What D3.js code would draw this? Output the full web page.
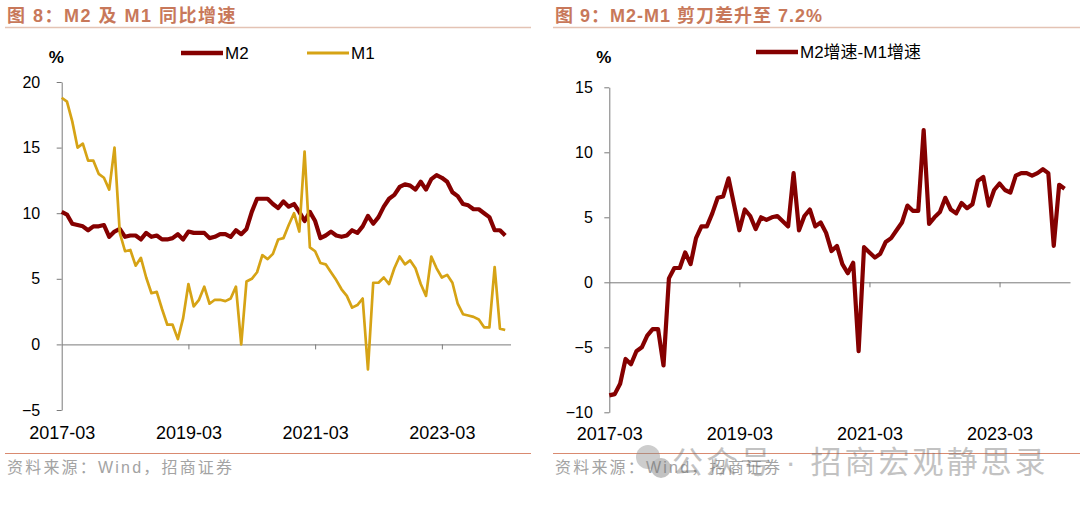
<!DOCTYPE html>
<html>
<head>
<meta charset="utf-8">
<script src="https://cdn.jsdelivr.net/npm/d3@7"></script>
<style>
body { margin: 0; background: #fff; }
text { font-family: "Liberation Sans", Arial, "Noto Sans CJK SC", sans-serif; }
</style>
</head>
<body>
<svg id="chart" width="1080" height="505"></svg>
<script>
// monthly data, 2017-03 .. 2024-03 (85 months)
var xTickIdx = [0, 24, 48, 72];
var xTickLabels = ["2017-03", "2019-03", "2021-03", "2023-03"];

var m2 = [10.1, 9.9, 9.2, 9.1, 9.0, 8.7, 9.0, 9.0, 9.1, 8.2,
  8.6, 8.8, 8.2, 8.3, 8.3, 8.0, 8.5, 8.2, 8.3, 8.0, 8.0, 8.1,
  8.4, 8.0, 8.6, 8.5, 8.5, 8.5, 8.1, 8.2, 8.4, 8.4, 8.2, 8.7,
  8.4, 8.8, 10.1, 11.1, 11.1, 11.1, 10.7, 10.4, 10.9, 10.5, 10.7, 10.1,
  9.4, 10.1, 9.4, 8.1, 8.3, 8.6, 8.3, 8.2, 8.3, 8.7, 8.5, 9.0,
  9.8, 9.2, 9.7, 10.5, 11.1, 11.4, 12.0, 12.2, 12.1, 11.8, 12.4, 11.8,
  12.6, 12.9, 12.7, 12.4, 11.6, 11.3, 10.7, 10.6, 10.3, 10.3, 10.0, 9.7,
  8.7, 8.7, 8.3];

var m1 = [18.8, 18.5, 17.0, 15.0, 15.3, 14.0, 14.0, 13.0, 12.7, 11.8,
  15.0, 8.5, 7.1, 7.2, 6.0, 6.6, 5.1, 3.9, 4.0, 2.7, 1.5, 1.5,
  0.4, 2.0, 4.6, 2.9, 3.4, 4.4, 3.1, 3.4, 3.4, 3.3, 3.5, 4.4,
  0.0, 4.8, 5.0, 5.5, 6.8, 6.5, 6.9, 8.0, 8.1, 9.1, 10.0, 8.6,
  14.7, 7.4, 7.1, 6.2, 6.1, 5.5, 4.9, 4.2, 3.7, 2.8, 3.0, 3.5,
  -1.9, 4.7, 4.7, 5.1, 4.6, 5.8, 6.7, 6.1, 6.4, 5.8, 4.6, 3.7,
  6.7, 5.8, 5.1, 5.3, 4.7, 3.1, 2.3, 2.2, 2.1, 1.9, 1.3, 1.3,
  5.9, 1.2, 1.1];

var spread = [-8.7, -8.6, -7.8, -5.9, -6.3, -5.3, -5.0, -4.1, -3.6, -3.6,
  -6.4, 0.3, 1.1, 1.1, 2.3, 1.4, 3.4, 4.3, 4.3, 5.3, 6.5, 6.6,
  8.0, 6.0, 4.0, 5.6, 5.1, 4.1, 5.0, 4.8, 5.0, 5.1, 4.7, 4.3,
  8.4, 4.0, 5.1, 5.6, 4.3, 4.6, 3.8, 2.4, 2.8, 1.4, 0.7, 1.5,
  -5.3, 2.7, 2.3, 1.9, 2.2, 3.1, 3.4, 4.0, 4.6, 5.9, 5.5, 5.5,
  11.7, 4.5, 5.0, 5.4, 6.5, 5.6, 5.3, 6.1, 5.7, 6.0, 7.8, 8.1,
  5.9, 7.1, 7.6, 7.1, 6.9, 8.2, 8.4, 8.4, 8.2, 8.4, 8.7, 8.4,
  2.8, 7.5, 7.2];

var leftTicks = [-5, 0, 5, 10, 15, 20];
var rightTicks = [-10, -5, 0, 5, 10, 15];

var RED = "#850000", GOLD = "#d6a315";

var svg = d3.select("#chart");

// titles + rules
function header(x0, x1, title, ls) {
  svg.append("text").attr("x", x0 + 2).attr("y", 22)
    .attr("font-size", 18).attr("font-weight", "bold")
    .attr("letter-spacing", ls).attr("fill", "#c8785a")
    .text(title);
  svg.append("line").attr("x1", x0).attr("x2", x1).attr("y1", 27.5).attr("y2", 27.5)
    .attr("stroke", "#e4c3b4").attr("stroke-width", 1.5);
  svg.append("line").attr("x1", x0).attr("x2", x1).attr("y1", 453.5).attr("y2", 453.5)
    .attr("stroke", "#d98a70").attr("stroke-width", 1);
  svg.append("text").attr("x", x0 + 2).attr("y", 473)
    .attr("font-size", 16).attr("letter-spacing", 2.2).attr("fill", "#a3a3a3")
    .text("资料来源：Wind，招商证券");
}
header(5, 531, "图 8：M2 及 M1 同比增速", 1.5);
header(553, 1080, "图 9：M2-M1 剪刀差升至 7.2%", 1);

function drawPanel(p) {
  var x = d3.scaleLinear().domain([0, 85]).range([p.left, p.right]);
  var y = d3.scaleLinear().domain([p.ticks[0], p.ticks[p.ticks.length - 1]]).range([p.bottom, p.top]);
  var g = svg.append("g");

  // y axis
  var ya = g.append("g").attr("transform", "translate(" + p.left + ",0)")
    .call(d3.axisLeft(y).tickValues(p.ticks).tickSize(5).tickSizeOuter(0).tickPadding(p.pad));
  ya.selectAll("text").attr("font-size", 16).attr("fill", "#000")
    .attr("font-family", "Liberation Sans, Arial, sans-serif");

  // zero line with month ticks
  g.append("g").attr("transform", "translate(0," + y(0) + ")")
    .call(d3.axisBottom(x).tickValues(xTickIdx.slice(1)).tickSize(5).tickSizeOuter(0).tickFormat(""));

  // date labels at bottom
  var xa = g.append("g").attr("transform", "translate(0," + p.labelY + ")")
    .call(d3.axisBottom(x).tickValues(xTickIdx).tickSize(0)
      .tickFormat(function(d) { return xTickLabels[xTickIdx.indexOf(d)]; }));
  xa.select(".domain").remove();
  xa.selectAll("text").attr("font-size", 18).attr("fill", "#000")
    .attr("font-family", "Liberation Sans, Arial, sans-serif");

  g.selectAll(".domain, .tick line").attr("stroke", "#7a7a7a");

  var line = d3.line().x(function(d, i) { return x(i); }).y(function(d) { return y(d); });
  p.series.forEach(function(s) {
    g.append("path").datum(s.values)
      .attr("d", line).attr("fill", "none")
      .attr("stroke", s.color).attr("stroke-width", s.width)
      .attr("stroke-linejoin", "round");
  });

  // legend
  p.series.forEach(function(s) {
    g.append("line").attr("x1", s.lx).attr("x2", s.lx + 42).attr("y1", p.legY).attr("y2", p.legY)
      .attr("stroke", s.color).attr("stroke-width", s.name == "M1" ? 3 : 4.5);
    g.append("text").attr("x", s.lx + 44).attr("y", p.legY + 6)
      .attr("font-size", 17).attr("fill", "#000").text(s.name);
  });

  g.append("text").attr("x", p.left - 13).attr("y", 63)
    .attr("font-size", 17).attr("font-weight", "bold").text("%");
}

// M2 drawn first so M1 sits on top, as in the original
drawPanel({
  left: 61.7, right: 510.5, top: 82, bottom: 410,
  ticks: leftTicks, pad: 16.5, labelY: 423, legY: 53,
  series: [
    { name: "M2", values: m2, color: RED, width: 4.2, lx: 181 },
    { name: "M1", values: m1, color: GOLD, width: 2.7, lx: 307 }
  ]
});

drawPanel({
  left: 609.3, right: 1070, top: 87.3, bottom: 412.3,
  ticks: rightTicks, pad: 11.5, labelY: 424, legY: 52,
  series: [
    { name: "M2增速-M1增速", values: spread, color: RED, width: 4.2, lx: 756 }
  ]
});

// wechat watermark (overlaps the right source line in the original too)
var wm = svg.append("g").attr("opacity", 0.42);
wm.append("circle").attr("cx", 648).attr("cy", 457).attr("r", 12).attr("fill", "#8a8a8a");
wm.append("circle").attr("cx", 661).attr("cy", 468).attr("r", 10).attr("fill", "#6f6f6f");
wm.append("text").attr("x", 672).attr("y", 473)
  .attr("font-size", 31).attr("letter-spacing", 3).attr("fill", "#707070")
  .attr("font-family", "Noto Sans CJK SC, sans-serif")
  .text("公众号 · 招商宏观静思录");
</script>
</body>
</html>
